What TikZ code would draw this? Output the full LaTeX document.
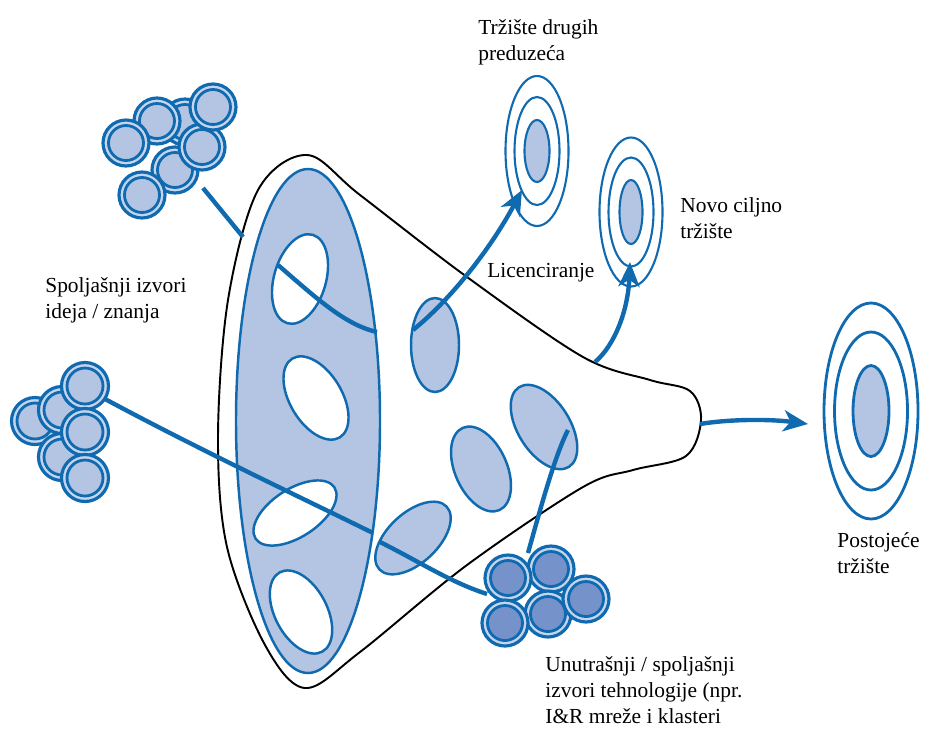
\documentclass[tikz,border=0pt]{standalone}
\usepackage{fontspec}
\setmainfont{Liberation Serif}
\usetikzlibrary{arrows.meta}

\definecolor{innoblue}{RGB}{16,106,176}
\definecolor{innofill}{RGB}{180,197,228}
\definecolor{innodark}{RGB}{118,146,202}
\definecolor{innoring}{RGB}{198,213,238}

\begin{document}
\begin{tikzpicture}[x=0.2mm,y=-0.2mm,
  lbl/.style={anchor=north west,inner sep=0pt,align=left,font=\fontsize{12.2}{14.8}\selectfont},
  flow/.style={innoblue,line width=2.5pt},
  flowtip/.style={-{Stealth[length=14pt,width=12pt,inset=4pt]}},
  blob/.style={draw=innoblue,line width=1.4pt,fill=innofill},
  hole/.style={draw=innoblue,line width=1.4pt,fill=white},
  ring/.style={draw=innoblue,line width=1.2pt}]
  \useasboundingbox (0,0) rectangle (927,728);

  \draw[black,line width=1.1pt,fill=white] plot[smooth cycle,tension=0.55] coordinates {
    (307,155) (360,195) (467,277) (583,357) (650,380) (690,391) (701,420) (686,456)
    (633,470) (583,487) (467,565) (360,652) (305,688) (265,645) (227,547) (218,437)
    (228,300) (258,190)};

  \draw[blob] (308,421) ellipse [x radius=72, y radius=252];
  \draw[hole,rotate around={-16:(300,279)}] (300,279) ellipse [x radius=26, y radius=46];
  \draw[hole,rotate around={31:(316,398)}] (316,398) ellipse [x radius=26, y radius=46];
  \draw[hole,rotate around={-57:(295,513)}] (295,513) ellipse [x radius=24, y radius=47];
  \draw[hole,rotate around={28:(301,612)}] (301,612) ellipse [x radius=26, y radius=45];

  \draw[blob] (435,345) ellipse [x radius=24, y radius=47];
  \draw[blob,rotate around={-47:(413,538)}] (413,538) ellipse [x radius=25, y radius=46];
  \draw[blob,rotate around={24:(481,469)}] (481,469) ellipse [x radius=26, y radius=45];
  \draw[blob,rotate around={32:(544,427)}] (544,427) ellipse [x radius=26, y radius=47];

  \coordinate (in1) at (203,188);
  \coordinate (in1b) at (243,237);
  \coordinate (in1c) at (278,265);
  \coordinate (in1d) at (377,332);
  \coordinate (licstart) at (413,330);
  \coordinate (licend) at (522,190);
  \coordinate (in2) at (105,399);
  \coordinate (in2b) at (373,533);
  \coordinate (in2c) at (380,542);
  \coordinate (in2d) at (487,594);
  \coordinate (techstart) at (528,553);
  \coordinate (techend) at (568,430);
  \coordinate (newstart) at (595,362);
  \coordinate (newend) at (630,262);
  \coordinate (outstart) at (700,424);
  \coordinate (outend) at (808,424);

  \draw[flow] (in1) -- (in1b);
  \draw[flow] (in1c) .. controls (315,297) and (345,325) .. (in1d);
  \draw[flow,flowtip] (licstart) .. controls (450,300) and (490,250) .. (licend);
  \draw[flow] (in2) .. controls (200,450) and (300,497) .. (in2b);
  \draw[flow] (in2c) .. controls (420,562) and (450,582) .. (in2d);
  \draw[flow] (techstart) .. controls (540,510) and (555,455) .. (techend);
  \draw[flow,flowtip] (newstart) .. controls (615,345) and (628,310) .. (newend);
  \draw[flow,flowtip] (outstart) .. controls (730,419) and (770,419) .. (outend);

  \foreach \cx/\cy in {185/122,157/121,126/143,175/170,142/195,202/147,213/107}{
    \draw[innoblue,line width=1.8pt,fill=innoring] (\cx,\cy) circle (23);
    \draw[innoblue,line width=1.6pt,fill=innofill] (\cx,\cy) circle (17.5);
  }
  \foreach \cx/\cy in {35/421,62/410,62/457,85/386,85/432,85/478}{
    \draw[innoblue,line width=1.8pt,fill=innoring] (\cx,\cy) circle (23.5);
    \draw[innoblue,line width=1.6pt,fill=innofill] (\cx,\cy) circle (18);
  }
  \foreach \cx/\cy in {551/569,548/614,586/599,508/578,505/623}{
    \draw[innoblue,line width=1.8pt,fill=innoring] (\cx,\cy) circle (23);
    \draw[innoblue,line width=1.6pt,fill=innodark] (\cx,\cy) circle (17.5);
  }

  \draw[ring] (537,151) ellipse [x radius=31.5, y radius=75];
  \draw[ring] (537,151) ellipse [x radius=22.5, y radius=54];
  \draw[ring,fill=innofill] (537,151) ellipse [x radius=12.5, y radius=31];
  \draw[ring] (631,212) ellipse [x radius=31.5, y radius=74.5];
  \draw[ring] (631,212) ellipse [x radius=22.5, y radius=54.5];
  \draw[ring,fill=innofill] (631,212) ellipse [x radius=11.5, y radius=32];
  \draw[ring,line width=1.6pt] (871,411) ellipse [x radius=47, y radius=108];
  \draw[ring,line width=1.6pt] (871,411) ellipse [x radius=36.5, y radius=79];
  \draw[ring,line width=1.6pt,fill=innofill] (871,411) ellipse [x radius=18, y radius=45.5];

  \node[lbl] (othermkt) at (478,19) {Tržište drugih\\preduzeća};
  \node[lbl] (newmkt) at (680,197) {Novo ciljno\\tržište};
  \node[lbl] (licence) at (487,263) {Licenciranje};
  \node[lbl] (extideas) at (45,277) {Spoljašnji izvori\\ideja / znanja};
  \node[lbl] (curmkt) at (837,532) {Postojeće\\tržište};
  \node[lbl] (techsrc) at (545,656) {Unutrašnji / spoljašnji\\izvori tehnologije (npr.\\I\&R mreže i klasteri};
\end{tikzpicture}
\end{document}
